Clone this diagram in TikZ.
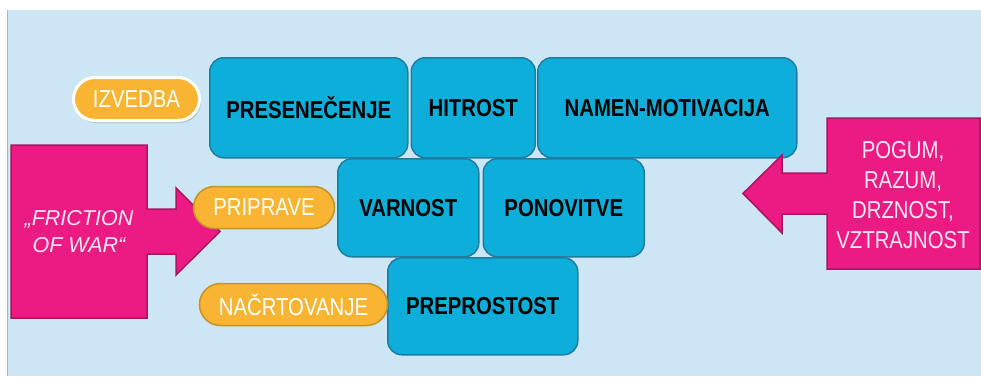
\documentclass[tikz,border=0pt]{standalone}
\usepackage{fontspec}
\setmainfont{Liberation Sans}
\newfontfamily\narrowsans{Liberation Sans}[FakeStretch=0.83]
\usetikzlibrary{positioning, shapes.misc, shadows}

\definecolor{skyback}{RGB}{205,230,246}
\definecolor{tileblue}{RGB}{14,174,219}
\definecolor{tileedge}{RGB}{30,125,158}
\definecolor{pinkarrow}{RGB}{236,26,131}
\definecolor{pinkedge}{RGB}{168,22,96}
\definecolor{pillorange}{RGB}{249,180,50}
\definecolor{pilledge}{RGB}{196,146,40}
\definecolor{pinktext}{RGB}{253,232,242}

\begin{document}
\begin{tikzpicture}[x=1pt, y=-1pt,
  tile/.style={draw=tileedge, line width=1.5pt, fill=tileblue, rounded corners=14pt,
    inner sep=0pt, anchor=north west, text=black,
    font=\narrowsans\bfseries\fontsize{24.5}{28}\selectfont},
  pill/.style={rounded rectangle, draw=pilledge, line width=1.5pt, fill=pillorange,
    inner sep=0pt, text=white,
    font=\narrowsans\fontsize{24.5}{28}\selectfont},
  pinkshape/.style={fill=pinkarrow, draw=pinkedge, line width=1.5pt, line join=miter}]
\useasboundingbox (0,0) rectangle (981,376);

% slide background
\fill[white] (0,0) rectangle (981,376);
\fill[skyback] (8,10) rectangle (981,376);
\draw[gray!60, line width=1pt] (7.5,10) -- (7.5,376);

% top row
\node[tile, minimum width=198pt, minimum height=100pt] (pres) at (209,57) {PRESENEČENJE};
\node[tile, minimum width=124pt, minimum height=100pt, right=2pt of pres.north east, anchor=north west] (hit) {HITROST};
\node[tile, minimum width=259pt, minimum height=100pt, right=1pt of hit.north east, anchor=north west] (namen) {NAMEN-MOTIVACIJA};

% middle row
\node[tile, minimum width=141pt, minimum height=98pt] (varn) at (337,158) {VARNOST};
\node[tile, minimum width=161pt, minimum height=98pt, right=3pt of varn.north east, anchor=north west] (ponov) {PONOVITVE};

% bottom row
\node[tile, minimum width=190pt, minimum height=97pt] (prepr) at (387,257) {PREPROSTOST};

% pink arrows
\coordinate (L0) at (11,145);
\coordinate (L1) at (147,318);
\coordinate (LT) at (220,231.5);
\draw[pinkshape] (L0) -- (147,145) -- (147,209) -- (176,209) -- (176,188) -- (LT)
  -- (176,275) -- (176,254) -- (147,254) -- (L1) -- (11,318) -- cycle;
\node[text=pinktext, align=center, font=\itshape\fontsize{21.5}{27}\selectfont] (friction)
  at (79,231.5) {„FRICTION\\OF WAR“};

\coordinate (R0) at (827,118);
\coordinate (R1) at (980,269);
\coordinate (RT) at (743,193.5);
\draw[pinkshape] (R0) -- (980,118) -- (R1) -- (827,269) -- (827,214) -- (782,214)
  -- (782,233) -- (RT) -- (782,155) -- (782,173) -- (827,173) -- cycle;
\node[text=pinktext, align=center, font=\narrowsans\fontsize{24.5}{29.8}\selectfont] (pogum)
  at (903,195) {POGUM,\\RAZUM,\\DRZNOST,\\VZTRAJNOST};

% orange labels
\node[pill, draw=white, line width=3pt, minimum width=126pt, minimum height=43pt,
  drop shadow={shadow xshift=1.5pt, shadow yshift=-2.5pt, opacity=0.35}] (izv) at (136.5,99) {IZVEDBA};
\node[pill, minimum width=141pt, minimum height=42pt] (pripr) at (264,207.5) {PRIPRAVE};
\node[pill, minimum width=188pt, minimum height=42pt] (nacrt) at (293.5,304.5) {NAČRTOVANJE};
\end{tikzpicture}
\end{document}
